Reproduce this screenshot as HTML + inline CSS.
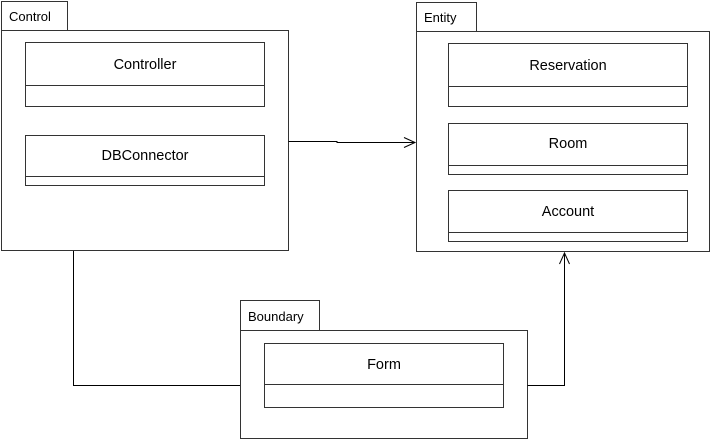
<!DOCTYPE html>
<html><head><style>
html,body{margin:0;padding:0;background:#fff;}
svg text{font-family:"Liberation Sans",sans-serif;font-size:13px;fill:#000;}
svg text.c{font-size:14.5px;}
</style></head><body>
<svg width="713" height="440" xmlns="http://www.w3.org/2000/svg">
<g fill="#fff" stroke="#333" stroke-width="1">
<rect x="1.5" y="1.5" width="66" height="29"/>
<rect x="1.5" y="30.5" width="287" height="220"/>
<rect x="25.5" y="42.5" width="239" height="64"/>
<line x1="25.5" y1="85.5" x2="264.5" y2="85.5"/>
<rect x="25.5" y="135.5" width="239" height="50"/>
<line x1="25.5" y1="176.5" x2="264.5" y2="176.5"/>
<rect x="416.5" y="2.5" width="60" height="29"/>
<rect x="416.5" y="31.5" width="293" height="220"/>
<rect x="448.5" y="43.5" width="239" height="63"/>
<line x1="448.5" y1="86.5" x2="687.5" y2="86.5"/>
<rect x="448.5" y="123.5" width="239" height="51"/>
<line x1="448.5" y1="165.5" x2="687.5" y2="165.5"/>
<rect x="448.5" y="190.5" width="239" height="51"/>
<line x1="448.5" y1="232.5" x2="687.5" y2="232.5"/>
<rect x="240.5" y="300.5" width="79" height="30"/>
<rect x="240.5" y="330.5" width="287" height="108"/>
<rect x="264.5" y="343.5" width="239" height="64"/>
<line x1="264.5" y1="384.5" x2="503.5" y2="384.5"/>
</g>
<g fill="none" stroke="#000" stroke-width="1">
<polyline points="288.5,141.5 337,141.5 337,142.5 415,142.5"/>
<polyline points="404,137.5 415,142.5 404,147.5"/>
<polyline points="73.5,251 73.5,385.5 240,385.5"/>
<polyline points="527.5,385.5 564.5,385.5 564.5,253"/>
<polyline points="559.5,264 564.5,253 569.5,264"/>
</g>
<text x="9" y="21">Control</text>
<text x="424" y="22">Entity</text>
<text x="248" y="321">Boundary</text>
<text class="c" x="145" y="69" text-anchor="middle">Controller</text>
<text class="c" x="145" y="160" text-anchor="middle">DBConnector</text>
<text class="c" x="568" y="70" text-anchor="middle">Reservation</text>
<text class="c" x="568" y="148" text-anchor="middle">Room</text>
<text class="c" x="568" y="216" text-anchor="middle">Account</text>
<text class="c" x="384" y="369" text-anchor="middle">Form</text>
</svg>
</body></html>
